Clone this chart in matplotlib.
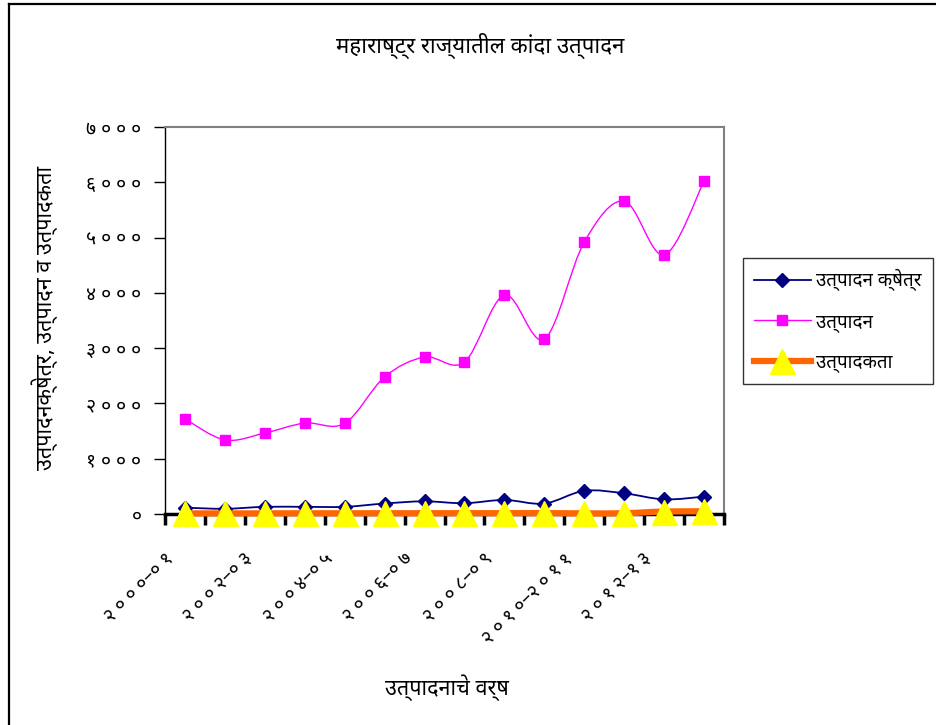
import matplotlib
matplotlib.use("Agg")
import matplotlib.pyplot as plt
from matplotlib.path import Path
from matplotlib.patches import PathPatch
from matplotlib.lines import Line2D
from matplotlib.transforms import ScaledTranslation

plt.rcParams['font.family'] = ['Noto Sans Devanagari', 'Mukta', 'DejaVu Sans']

# data
years = ['२०००–०१', '२००१–०२', '२००२–०३', '२००३–०४', '२००४–०५', '२००५–०६', '२००६–०७',
         '२००७–०८', '२००८–०९', '२००९–१०', '२०१०–२०११', '२०११–१२', '२०१२–१३', '२०१३–१४']
area = [115, 95, 130, 130, 130, 190, 230, 195, 255, 190, 420, 375, 265, 315]
production = [1720, 1340, 1465, 1645, 1640, 2480, 2840, 2750, 3960, 3165, 4920, 5660, 4685, 6020]
productivity = [12, 11, 12, 13, 13, 14, 14, 15, 15, 16, 12, 14, 45, 48]

names = ['उत्पादन क्षेत्र', 'उत्पादन', 'उत्पादकता']
yticks = [0, 1000, 2000, 3000, 4000, 5000, 6000, 7000]

title = 'महाराष्ट्र राज्यातील कांदा उत्पादन'
xlabel = 'उत्पादनाचे वर्ष'
ylabel = 'उत्पादनक्षेत्र, उत्पादन व उत्पादकता'

deva = str.maketrans('0123456789', '०१२३४५६७८९')


def spaced(s):
    # Excel drew the digits with wide spacing
    out = ''
    for i, ch in enumerate(s):
        if i > 0 and ch.isdigit() and s[i - 1].isdigit():
            out += ' '
        out += ch
    return out


def smooth(x, y):
    # Excel-style smoothed line (Catmull-Rom as cubic Bezier)
    n = len(x)
    verts = [(x[0], y[0])]
    codes = [Path.MOVETO]
    for i in range(n - 1):
        a = max(i - 1, 0)
        d = min(i + 2, n - 1)
        c1 = (x[i] + (x[i + 1] - x[a]) / 6, y[i] + (y[i + 1] - y[a]) / 6)
        c2 = (x[i + 1] - (x[d] - x[i]) / 6, y[i + 1] - (y[d] - y[i]) / 6)
        verts += [c1, c2, (x[i + 1], y[i + 1])]
        codes += [Path.CURVE4] * 3
    return Path(verts, codes)


fig = plt.figure(figsize=(9.37, 7.25), dpi=100)
ax = fig.add_axes([0.1761, 0.2910, 0.5966, 0.5338])

x = list(range(len(years)))

ax.add_patch(PathPatch(smooth(x, area), fill=False, ec='#000080', lw=1.3, zorder=3))
ax.plot(x, area, ls='none', marker='D', ms=7, color='#000080', zorder=3)

ax.add_patch(PathPatch(smooth(x, production), fill=False, ec='#FF00FF', lw=1.0, zorder=3))
ax.plot(x, production, ls='none', marker='s', ms=7.5, color='#FF00FF', zorder=3)

ax.add_patch(PathPatch(smooth(x, productivity), fill=False, ec='#FF6600', lw=4.5,
                       zorder=4, clip_on=False))
ax.plot(x, productivity, ls='none', marker='^', ms=18, color='#FFFF00', mec='#FFFF00',
        zorder=5, clip_on=False)

ax.set_xlim(-0.5, len(years) - 0.5)
ax.set_ylim(0, 7000)

# y axis
ax.set_yticks(yticks)
ax.set_yticklabels([spaced(str(v).translate(deva)) for v in yticks], fontsize=14)
ax.tick_params(axis='y', length=8, width=1, pad=9, color='black')

# x axis: tick marks at category borders, labels on every other category
ax.set_xticks([i - 0.5 for i in range(len(years) + 1)])
ax.set_xticklabels([])
ax.tick_params(axis='x', which='major', length=8, width=2.5, color='black')
ax.set_xticks(x[::2], minor=True)
ax.set_xticklabels([spaced(years[i]) for i in x[::2]], minor=True, fontsize=14,
                   rotation=45, ha='right', va='center', rotation_mode='anchor')
ax.tick_params(axis='x', which='minor', length=0, pad=30)
for lab in ax.get_xticklabels(minor=True):
    lab.set_transform(lab.get_transform() + ScaledTranslation(-0.15, 0, fig.dpi_scale_trans))

ax.spines['left'].set_color('black')
ax.spines['left'].set_linewidth(1)
ax.spines['bottom'].set_color('black')
ax.spines['bottom'].set_linewidth(2.5)
for s in ['top', 'right']:
    ax.spines[s].set_color('#808080')
    ax.spines[s].set_linewidth(1.5)

fig.text(0.512, 0.937, title, ha='center', va='center', fontsize=16)
fig.text(0.477, 0.052, xlabel, ha='center', va='center', fontsize=15.5)
fig.text(0.048, 0.562, ylabel, ha='center', va='center', rotation=90, fontsize=15.5)

handles = [
    Line2D([], [], color='#000080', lw=1.3, marker='D', ms=7),
    Line2D([], [], color='#FF00FF', lw=1.0, marker='s', ms=7.5),
    Line2D([], [], color='#FF6600', lw=4.5, marker='^', ms=18, mfc='#FFFF00', mec='#FFFF00'),
]
leg = fig.legend(handles, names, loc='upper left', bbox_to_anchor=(0.793, 0.644),
                 borderaxespad=0, fontsize=13.5, frameon=True, fancybox=False,
                 edgecolor='black', handlelength=3.0, labelspacing=1.15, borderpad=0.6,
                 handletextpad=0.3)
leg.get_frame().set_linewidth(1.0)

# chart border (left and top edges)
fig.add_artist(Line2D([0.0091, 0.0091], [0, 0.9938], color='black', lw=1.6))
fig.add_artist(Line2D([0.0091, 1], [0.9938, 0.9938], color='black', lw=1.6))

fig.savefig('out.png')
